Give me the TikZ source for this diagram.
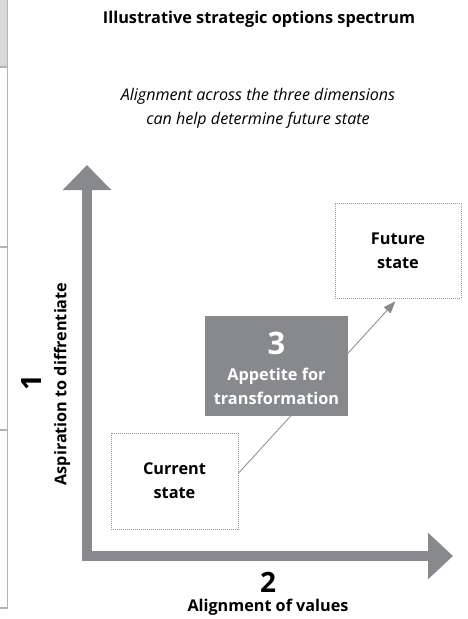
\documentclass[tikz,border=0pt]{standalone}
\usepackage{fontspec}
\setmainfont{Open Sans}
\usetikzlibrary{arrows.meta,calc}
\definecolor{axisgray}{HTML}{87898C}
\definecolor{stripgray}{HTML}{D9D9D9}
\definecolor{stripline}{HTML}{B4B4B4}
\definecolor{dotgray}{HTML}{9A9A9A}
\tikzset{
  axisline/.style={draw=axisgray,line width=10pt,line join=miter},
  statebox/.style={draw=dotgray,line width=0.8pt,dash pattern=on 1pt off 1pt,align=center,font=\bfseries\fontsize{16.3}{24}\selectfont,inner sep=0pt},
  darkbox/.style={fill=axisgray,text=white,align=center,inner sep=0pt},
  conn/.style={draw=axisgray,line width=0.8pt,-{Triangle[width=9pt,length=12pt]}},
  stripl/.style={draw=stripline,line width=1.2pt}
}
\begin{document}
\begin{tikzpicture}[x=1pt,y=-1pt]
\useasboundingbox (0,0) rectangle (467,619);
% left strip remnants
\fill[stripgray] (0,0) rectangle (7.5,67);
\draw[stripl] (7.5,0) -- (7.5,608);
\foreach \yy in {67,247,430,608} \draw[stripl] (0,\yy) -- (7.5,\yy);
% titles
\node[font=\bfseries\fontsize{16.3}{19}\selectfont] (title) at (259,19) {Illustrative strategic options spectrum};
\node[font=\itshape\fontsize{16.1}{24}\selectfont,align=center] (sub) at (258,108) {Alignment across the three dimensions\\can help determine future state};
% axes
\coordinate (ytip) at (87,165);
\coordinate (corner) at (87,556);
\coordinate (xtip) at (453,556);
\draw[axisline,{Triangle[width=47pt,length=25pt]}-{Triangle[width=45pt,length=25pt]}] (ytip) -- (corner) -- (xtip);
% axis labels
\node[font=\bfseries\fontsize{28}{30}\selectfont,rotate=90] (one) at (32,383) {1};
\node[font=\bfseries\fontsize{16.2}{19}\selectfont,rotate=90] (ylab) at (62,384) {Aspiration to diffrentiate};
\node[font=\bfseries\fontsize{28}{30}\selectfont] (two) at (268,582) {2};
\node[font=\bfseries\fontsize{16.2}{19}\selectfont] (xlab) at (268,607) {Alignment of values};
% state boxes
\node[statebox,minimum width=127pt,minimum height=96pt] (current) at (174.5,481) {Current\\state};
\node[statebox,minimum width=126pt,minimum height=95pt] (future) at (398,250.5) {Future\\state};
% connector
\draw[conn,shorten >=4pt] ($(current.north east)!0.42!(current.south east)$) -- (future.south);
% appetite box
\node[darkbox,minimum width=143pt,minimum height=100pt] (appetite) at (276.5,366) {};
\node[text=white,font=\bfseries\fontsize{31}{31}\selectfont] (three) at (276.5,343) {3};
\node[text=white,align=center,font=\bfseries\fontsize{16.3}{24}\selectfont] (applab) at (276.5,386) {Appetite for\\transformation};
\end{tikzpicture}
\end{document}
